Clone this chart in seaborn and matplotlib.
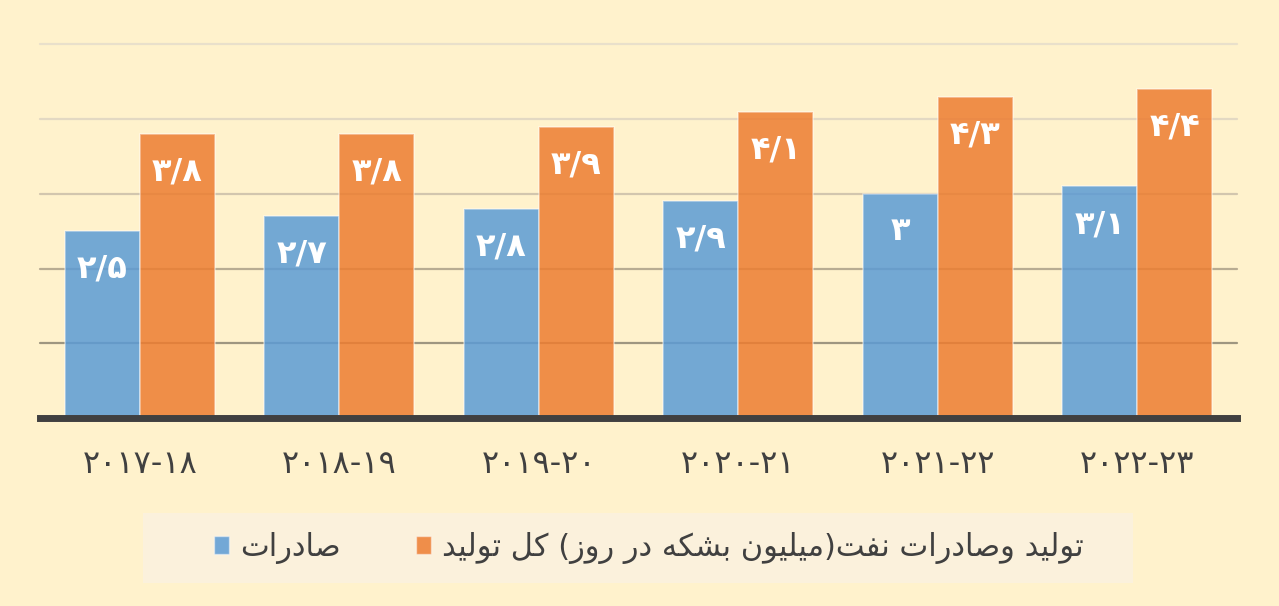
import matplotlib
matplotlib.use("Agg")
import matplotlib.pyplot as plt
import matplotlib.colors as mcolors
from matplotlib.patches import Rectangle, Patch
from matplotlib import font_manager, ft2font
import pandas as pd
import seaborn as sns

# ---------------- data ----------------
categories = ["۲۰۱۷-۱۸", "۲۰۱۸-۱۹", "۲۰۱۹-۲۰", "۲۰۲۰-۲۱", "۲۰۲۱-۲۲", "۲۰۲۲-۲۳"]
exports = [2.5, 2.7, 2.8, 2.9, 3.0, 3.1]
total_production = [3.8, 3.8, 3.9, 4.1, 4.3, 4.4]
series_names = ["صادرات", "تولید وصادرات نفت(میلیون بشکه در روز) کل تولید"]
grid_values = [1, 2, 3, 4, 5]

# ---------------- Arabic-script shaping (matplotlib has no bidi/shaping) ----------------
FORMS = {
    "\u0627": ("\uFE8D", "\uFE8E", None, None),
    "\u0628": ("\uFE8F", "\uFE90", "\uFE91", "\uFE92"),
    "\u062A": ("\uFE95", "\uFE96", "\uFE97", "\uFE98"),
    "\u062F": ("\uFEA9", "\uFEAA", None, None),
    "\u0631": ("\uFEAD", "\uFEAE", None, None),
    "\u0632": ("\uFEAF", "\uFEB0", None, None),
    "\u0634": ("\uFEB5", "\uFEB6", "\uFEB7", "\uFEB8"),
    "\u0635": ("\uFEB9", "\uFEBA", "\uFEBB", "\uFEBC"),
    "\u0641": ("\uFED1", "\uFED2", "\uFED3", "\uFED4"),
    "\u0644": ("\uFEDD", "\uFEDE", "\uFEDF", "\uFEE0"),
    "\u0645": ("\uFEE1", "\uFEE2", "\uFEE3", "\uFEE4"),
    "\u0646": ("\uFEE5", "\uFEE6", "\uFEE7", "\uFEE8"),
    "\u0647": ("\uFEE9", "\uFEEA", "\uFEEB", "\uFEEC"),
    "\u0648": ("\uFEED", "\uFEEE", None, None),
    "\u06CC": ("\uFBFC", "\uFBFD", "\uFBFE", "\uFBFF"),
    "\u06A9": ("\uFB8E", "\uFB8F", "\uFB90", "\uFB91"),
}
FALLBACK = {
    "\u06CC": ("\uFEEF", "\uFEF0", "\uFEF3", "\uFEF4"),
    "\u06A9": ("\uFED9", "\uFEDA", "\uFEDB", "\uFEDC"),
}
_font = ft2font.FT2Font(font_manager.findfont("DejaVu Sans"))
for k, forms in FALLBACK.items():
    if any(_font.get_char_index(ord(f)) == 0 for f in FORMS[k]):
        FORMS[k] = forms

MIRROR = {"(": ")", ")": "("}


def shape_rtl(text):
    out = []
    n = len(text)
    for i, c in enumerate(text):
        if c not in FORMS:
            out.append(c)
            continue
        iso, fin, ini, med = FORMS[c]
        prev = text[i - 1] if i > 0 else ""
        nxt = text[i + 1] if i < n - 1 else ""
        join_prev = prev in FORMS and FORMS[prev][2] is not None
        join_next = nxt in FORMS and ini is not None
        if join_prev and join_next:
            out.append(med)
        elif join_prev:
            out.append(fin)
        elif join_next:
            out.append(ini)
        else:
            out.append(iso)
    return "".join(MIRROR.get(ch, ch) for ch in reversed(out))


PERSIAN_DIGITS = str.maketrans("0123456789", "۰۱۲۳۴۵۶۷۸۹")


def fa_number(v):
    s = f"{v:.1f}".rstrip("0").rstrip(".")
    return s.replace(".", "/").translate(PERSIAN_DIGITS)


shaped_names = [shape_rtl(s) for s in series_names]

df = pd.DataFrame({
    "category": categories * 2,
    "series": [shaped_names[0]] * len(categories) + [shaped_names[1]] * len(categories),
    "value": exports + total_production,
})

# ---------------- style ----------------
sns.set_style("white")
plt.rcParams["font.family"] = ["DejaVu Sans"]

BG = "#FFF2CC"
BLUE, ORANGE = "#5B9BD5", "#ED7D31"
fig = plt.figure(figsize=(12.79, 6.06), dpi=100, facecolor=BG)
ax = fig.add_axes([40 / 1279, (606 - 418) / 606, 1197 / 1279, (418 - 44.3) / 606])
ax.set_facecolor("none")

sns.barplot(
    data=df, x="category", y="value", hue="series", hue_order=shaped_names,
    order=categories, palette=[BLUE, ORANGE], width=0.75, saturation=1,
    errorbar=None, ax=ax, zorder=2,
)

for p in ax.patches:
    p.set_facecolor(mcolors.to_rgba(p.get_facecolor(), 0.85))
    p.set_edgecolor((1, 1, 1, 0.45))
    p.set_linewidth(1.2)

grid_colors = ["#9E9680", "#B8AC92", "#D2C6AE", "#E3D9C3", "#E9E0CB"]
for v, c in zip(grid_values, grid_colors):
    ax.axhline(v, color=c, lw=1.6, zorder=1, clip_on=False)

ax.set_ylim(0, 5)
ax.set_xlim(-0.5, len(categories) - 0.5)

for container in ax.containers:
    for p, v in zip(container.patches, container.datavalues):
        ax.annotate(
            fa_number(v), (p.get_x() + p.get_width() / 2, p.get_height()),
            xytext=(0, -27.5), textcoords="offset points",
            ha="center", va="center", color="white", fontsize=23,
            fontweight="bold", zorder=4,
        )

for s in ["left", "right", "top"]:
    ax.spines[s].set_visible(False)
ax.spines["bottom"].set_color("#404040")
ax.spines["bottom"].set_linewidth(5)
ax.spines["bottom"].set_zorder(3)
ax.set_yticks([])
ax.tick_params(axis="x", length=0, pad=22, labelsize=23, labelcolor="#404040")
ax.set_xlabel("")
ax.set_ylabel("")

# legend
handles = [Patch(facecolor=mcolors.to_rgba(c, 0.85), edgecolor=(1, 1, 1, 0.45))
           for c in [BLUE, ORANGE]]
ax.get_legend().remove()
fig.patches.append(Rectangle((143 / 1279, (606 - 583) / 606), 990 / 1279, 70 / 606,
                             transform=fig.transFigure, facecolor="#FBF1DC",
                             edgecolor="none", zorder=-1))
leg = fig.legend(handles, shaped_names, loc="center",
                 bbox_to_anchor=(649 / 1279, (606 - 548) / 606), ncol=2,
                 frameon=False, fontsize=22, handlelength=0.5, handleheight=0.55,
                 handletextpad=0.36, columnspacing=2.45, labelcolor="#404040")

fig.savefig("out.png", dpi=100, facecolor=BG)
